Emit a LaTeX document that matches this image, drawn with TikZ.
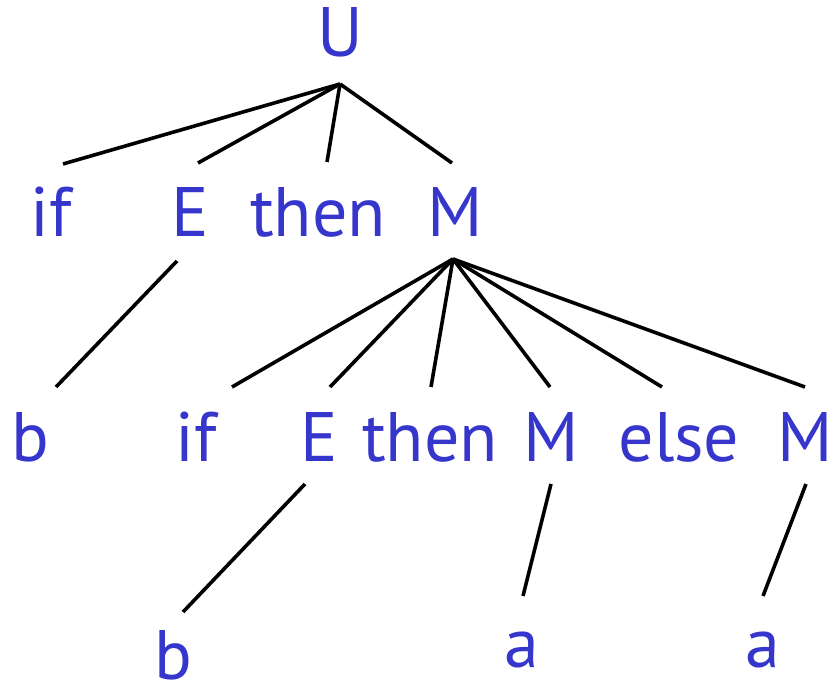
\documentclass[tikz,border=0pt]{standalone}
\usepackage{fontspec}
\setmainfont{PT Sans}
\definecolor{symblue}{RGB}{54,54,204}
\begin{document}
\begin{tikzpicture}[x=1pt,y=-1pt,
  sym/.style={anchor=base,inner sep=0pt,text=symblue,font=\fontsize{70}{84}\selectfont},
  edge/.style={draw=black,line width=3.6pt}]
\useasboundingbox (0,0) rectangle (833,684);
% level 0
\node[sym] (U) at (340,57) {U};
% level 1
\node[sym] (if1) at (51,237) {if};
\node[sym] (E1) at (190,237) {E};
\node[sym] (then1) at (318,237) {then};
\node[sym] (M1) at (455,237) {M};
% level 2
\node[sym] (b1) at (30,461) {b};
\node[sym] (if2) at (196,461) {if};
\node[sym] (E2) at (319,461) {E};
\node[sym] (then2) at (430,461) {then};
\node[sym] (M2) at (551,461) {M};
\node[sym] (else2) at (679,461) {else};
\node[sym] (M3) at (805,461) {M};
% level 3
\node[sym] (b2) at (173,679) {b};
\node[sym] (a1) at (522,667) {a};
\node[sym] (a2) at (763,667) {a};
% connector ends
\coordinate (U-s) at (340,84);
\coordinate (if1-n) at (63,164);
\coordinate (E1-n) at (198,163);
\coordinate (then1-n) at (327,162);
\coordinate (M1-n) at (452,163);
\coordinate (E1-s) at (177,261);
\coordinate (b1-n) at (56,387);
\coordinate (M1-s) at (453,259);
\coordinate (if2-n) at (232,387);
\coordinate (E2-n) at (330,387);
\coordinate (then2-n) at (431,387);
\coordinate (M2-n) at (550,387);
\coordinate (else2-n) at (662,387);
\coordinate (M3-n) at (805,387);
\coordinate (E2-s) at (305,484);
\coordinate (b2-n) at (183,612);
\coordinate (M2-s) at (551,484);
\coordinate (a1-n) at (523,596);
\coordinate (M3-s) at (806,484);
\coordinate (a2-n) at (763,596);
% connectors
\foreach \c in {if1,E1,then1,M1} \draw[edge] (U-s) -- (\c-n);
\draw[edge] (E1-s) -- (b1-n);
\foreach \c in {if2,E2,then2,M2,else2,M3} \draw[edge] (M1-s) -- (\c-n);
\draw[edge] (E2-s) -- (b2-n);
\draw[edge] (M2-s) -- (a1-n);
\draw[edge] (M3-s) -- (a2-n);
\end{tikzpicture}
\end{document}
